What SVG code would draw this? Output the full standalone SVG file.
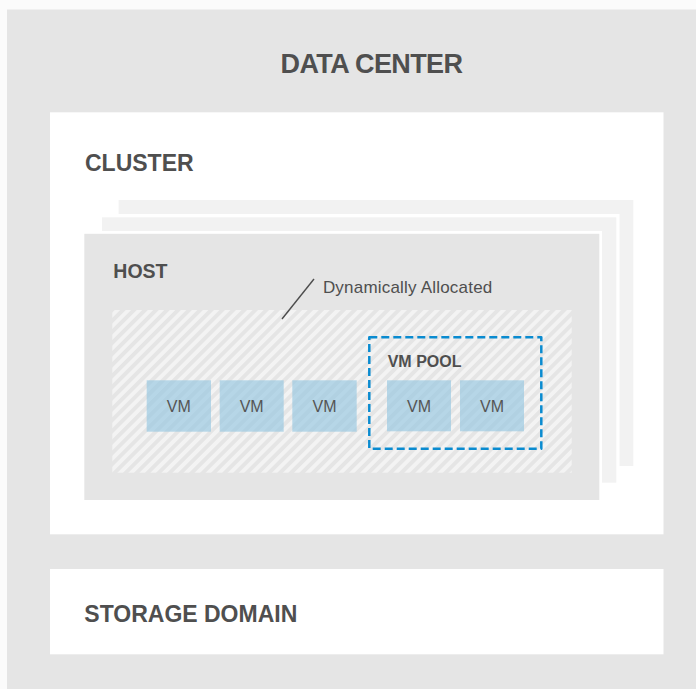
<svg xmlns="http://www.w3.org/2000/svg" width="696" height="689" viewBox="0 0 696 689">
<defs>
<style>
.title{font-family:"Liberation Sans",Arial,sans-serif;font-weight:bold;fill:#4f4f4f}
.vm{font-family:"Liberation Sans",Arial,sans-serif;font-size:16px;fill:#555;text-anchor:middle}
.vmbox{fill:#8ec3e0;fill-opacity:0.6}
.lbl{font-family:"Liberation Sans",Arial,sans-serif;font-size:17px;fill:#4f4f4f;letter-spacing:0.2px}
</style>
<pattern id="hatch" patternUnits="userSpaceOnUse" width="7.8" height="7.8" patternTransform="rotate(45)">
<rect width="7.8" height="7.8" fill="#f3f3f3"/>
<rect width="3.9" height="7.8" fill="#e5e5e5"/>
</pattern>
</defs>
<rect x="0" y="0" width="696" height="689" fill="#fbfbfb"/>
<g id="datacenter">
<rect x="7" y="9.5" width="689" height="679.5" fill="#e5e5e5"/>
<text class="title" x="280.5" y="73.3" font-size="27" letter-spacing="-0.6">DATA CENTER</text>
</g>
<g id="cluster">
<rect x="50" y="112.3" width="613.5" height="422" fill="#fff"/>
<text class="title" x="85" y="171" font-size="23">CLUSTER</text>
</g>
<g id="host-back">
<rect x="118.6" y="200" width="514.7" height="266" fill="#f2f2f2"/>
</g>
<g id="host-middle">
<rect x="99" y="214" width="520.5" height="271.7" fill="#fff"/>
<rect x="102" y="217.3" width="514.3" height="265.4" fill="#f2f2f2"/>
</g>
<g id="host">
<rect x="81.5" y="231" width="520.5" height="271.7" fill="#fff"/>
<rect x="84.3" y="233.8" width="515" height="266.2" fill="#e5e5e5"/>
<text class="title" x="113.3" y="277.7" font-size="19.5">HOST</text>
</g>
<g id="dynamic-area">
<rect x="112.3" y="310" width="459.4" height="162.7" fill="url(#hatch)"/>
<text class="lbl" x="322.9" y="293.3">Dynamically Allocated</text>
</g>
<g id="connectors">
<line x1="314" y1="279" x2="282" y2="319" stroke="#4d4d4d" stroke-width="1.4"/>
</g>
<g id="vm1"><rect class="vmbox" x="146.7" y="380.3" width="64.3" height="51.4"/><text class="vm" x="178.8" y="412.3">VM</text></g>
<g id="vm2"><rect class="vmbox" x="219.7" y="380.3" width="64" height="51.4"/><text class="vm" x="251.7" y="412.3">VM</text></g>
<g id="vm3"><rect class="vmbox" x="292.3" y="380.3" width="64.4" height="51.4"/><text class="vm" x="324.5" y="412.3">VM</text></g>
<g id="vm-pool">
<rect x="369.3" y="337.3" width="172" height="111.4" fill="none" stroke="#0a8bd0" stroke-width="2.5" stroke-dasharray="8 4" stroke-linejoin="round"/>
<text class="title" x="387.7" y="366.7" font-size="16">VM POOL</text>
</g>
<g id="vm4"><rect class="vmbox" x="387" y="380.3" width="64" height="51"/><text class="vm" x="419" y="412.3">VM</text></g>
<g id="vm5"><rect class="vmbox" x="460" y="380.3" width="64" height="51"/><text class="vm" x="492" y="412.3">VM</text></g>
<g id="storage">
<rect x="50" y="569" width="613.5" height="85.3" fill="#fff"/>
<text class="title" x="84.3" y="621.7" font-size="23">STORAGE DOMAIN</text>
</g>
</svg>
